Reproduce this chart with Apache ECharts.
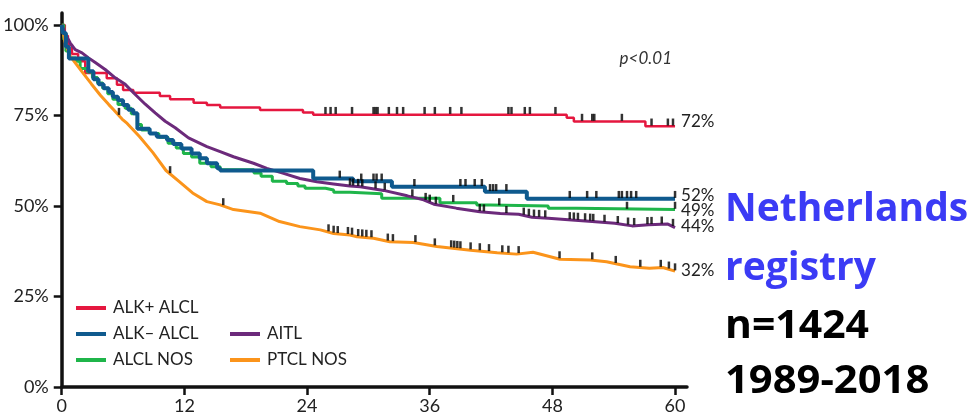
<!DOCTYPE html>
<html>
<head>
<meta charset="utf-8">
<script src="https://cdn.jsdelivr.net/npm/echarts@6/dist/echarts.min.js"></script>
<style>
  html, body { margin: 0; padding: 0; background: #fff; }
  #chart { width: 971px; height: 418px; }
</style>
</head>
<body>
<div id="chart"></div>
<script>
// Overall survival by PTCL subtype: x = months, y = % surviving
const monthTicks = [0, 12, 24, 36, 48, 60];
const percentTicks = [0, 25, 50, 75, 100];

const subtypeNames = ['ALK+ ALCL', 'ALK\u2013 ALCL', 'ALCL NOS', 'AITL', 'PTCL NOS'];

// Kaplan-Meier steps [month, %]
const alkPosCurve = [
  [0, 100], [0.3, 97], [0.6, 94.5], [1.0, 92], [1.6, 90], [2.3, 86.7], [4.4, 85.3],
  [5.4, 83.5], [6.0, 82], [7.0, 81.3], [9.6, 80.4], [10.6, 79.5], [12.9, 78.5],
  [14.2, 77.9], [15.5, 77.2], [19.4, 76.5], [23.6, 75.8], [24.6, 75.2], [49.4, 74.4],
  [50.1, 73.3], [57.1, 72], [60, 72]
];
const alkNegCurve = [
  [0, 100], [0.1, 97.8], [0.4, 94], [0.7, 90.7], [2.6, 87.2], [3.1, 85], [3.6, 83.6],
  [4.1, 82.5], [4.6, 81.5], [5.0, 80.2], [5.5, 79.2], [6.0, 77.9], [6.5, 76.6], [7.0, 75.6],
  [7.4, 71.3], [8.6, 70], [9.3, 69.1], [10.3, 68.2], [10.9, 67.1], [11.7, 65.9],
  [12.7, 64.5], [13.5, 63.2], [14.2, 61.8], [15.2, 60.4], [15.5, 59.8], [24.6, 57.6],
  [28.5, 56.8], [32.3, 55.3], [41.4, 53.9], [45.5, 52], [60, 52]
];
const alclNosCurve = [
  [0, 100], [0.2, 96], [0.4, 92.8], [0.7, 90.9], [1.4, 90], [1.8, 88], [2.5, 87],
  [3.0, 85.5], [3.5, 84], [4.0, 82.5], [4.5, 81], [5.0, 79.5], [5.5, 78], [6.2, 77],
  [6.8, 75.5], [7.4, 72.5], [7.8, 71], [8.6, 70], [9.5, 69], [10.4, 67.3], [11.2, 66],
  [11.9, 64.5], [12.7, 63.5], [13.5, 61.8], [14.6, 60.8], [15.5, 60], [18.8, 59.1],
  [19.5, 58.2], [20.6, 56.8], [22.0, 56.2], [23.1, 55.5], [23.8, 54.9], [25.8, 54.4],
  [26.6, 53.8], [28.2, 53.4], [31.3, 52.1], [37.0, 50.9], [40.6, 50.3], [41.9, 50],
  [47.6, 49.4], [50.4, 49], [60, 49]
];
// Finely stepped curves, drawn as polylines
const aitlCurve = [
  [0, 100], [0.4, 97.3], [0.83, 95], [1.32, 93.2], [1.98, 92.3], [2.62, 90.9],
  [3.28, 89.6], [4.25, 87.7], [5.23, 85.4], [6.21, 83.6], [7.19, 80.8], [8.17, 78.1],
  [9.14, 75.7], [10.12, 73.4], [11.1, 71.6], [12.4, 68.8], [14.2, 66.4], [15.5, 65],
  [16.8, 63.6], [18.76, 61.8], [20.07, 60.4], [21.7, 59], [23.3, 57.6], [24.96, 56.7],
  [26.58, 56.1], [28.2, 55.5], [29.2, 55.3], [31.5, 54.3], [33.8, 52.8], [35.4, 51.7],
  [36.4, 50.5], [38.6, 49.4], [40.9, 48.4], [42.9, 47.9], [44.7, 47.7], [46.0, 46.9],
  [47.6, 46.6], [49.9, 46.1], [51.9, 45.7], [54.1, 45.2], [55.8, 44.5], [57.4, 44.8],
  [59.3, 45.0], [60, 44]
];
const ptclNosCurve = [
  [0, 100], [0.3, 95.5], [0.8, 91.5], [1.9, 87.4], [2.9, 83.7], [3.8, 80.5], [4.6, 78],
  [5.1, 76.5], [5.9, 74], [6.4, 72.8], [7.6, 69.2], [8.9, 64.8], [10.2, 59.8],
  [11.5, 56.7], [12.8, 53.6], [14.2, 51.2], [15.5, 50.3], [16.8, 49], [19.4, 48],
  [21.3, 45.7], [23.3, 44.3], [25.3, 43.4], [26.6, 42.4], [28.2, 42], [28.9, 41.5],
  [30.5, 41.1], [32.1, 40.1], [34.4, 39.9], [36.7, 38.8], [40, 37.8], [42.6, 37.1],
  [44.5, 36.7], [46.1, 37.2], [48.75, 35.3], [51.7, 35.1], [53.3, 34.6], [55.6, 33.2],
  [57.5, 32.8], [58.8, 33], [60, 32]
];

// Censoring times (months)
const alkPosCensored = [25.8, 26.3, 26.8, 28.4, 30.5, 30.7, 30.9, 32.0, 32.8, 33.4, 35.5,
  36.5, 38.0, 39.1, 43.7, 44.0, 45.3, 45.8, 48.3, 50.9, 51.9, 52.1, 54.8, 57.7, 59.3, 59.8];
const alkNegCensored = [27.2, 29.3, 30.5, 30.8, 31.3, 34.5, 39.0, 39.5, 40.4, 41.1, 41.9,
  42.2, 42.5, 43.5, 49.7, 51.4, 52.3, 54.5, 54.8, 55.3, 55.7, 56.2, 60];
const alclNosCensored = [38.3, 42.8, 55.3, 60];
const aitlCensored = [28.2, 28.5, 29.0, 29.4, 30.7, 31.6, 34.3, 35.6, 36.0, 36.6, 40.9,
  41.3, 43.5, 45.2, 45.7, 46.2, 46.7, 47.3, 49.7, 50.1, 50.5, 51.2, 51.7, 52.0, 53.1,
  54.4, 55.4, 56.0, 57.3, 57.7, 58.7, 59.8];
const ptclNosCensored = [5.6, 10.6, 15.8, 26.1, 26.6, 27.0, 28.0, 28.4, 29.0, 29.4, 29.8,
  30.3, 31.9, 32.4, 34.6, 36.5, 38.1, 38.4, 38.7, 39.0, 40.0, 40.9, 41.8, 43.1, 43.7,
  44.7, 48.7, 51.9, 54.2, 56.6, 58.6, 59.4, 60];

const pValueText = 'p<0.01';
const sideNotes = ['Netherlands', 'registry', 'n=1424', '1989-2018'];

// Survival at time m on a curve (step lookup or along the polyline)
function survivalAt(curve, m, stepped) {
  for (let i = curve.length - 1; i >= 0; i--) {
    if (curve[i][0] <= m) {
      if (stepped || i === curve.length - 1) return curve[i][1];
      const a = curve[i], b = curve[i + 1];
      return a[1] + (b[1] - a[1]) * (m - a[0]) / (b[0] - a[0]);
    }
  }
  return curve[0][1];
}

const FONT = 'Lato, "Open Sans", sans-serif';
const TEXT_COLOR = '#222';
const NOTE_FONT = 'bold 39px "Open Sans"';

const groups = [
  { name: subtypeNames[0], curve: alkPosCurve, cens: alkPosCensored, stepped: true,  color: '#e5173f', width: 2.5, labelDy: -5 },
  { name: subtypeNames[2], curve: alclNosCurve, cens: alclNosCensored, stepped: true,  color: '#1fb54a', width: 3,   labelDy: 1 },
  { name: subtypeNames[4], curve: ptclNosCurve, cens: ptclNosCensored, stepped: false, color: '#fb941b', width: 3,   labelDy: -1 },
  { name: subtypeNames[3], curve: aitlCurve,    cens: aitlCensored,    stepped: false, color: '#6c2a7b', width: 3,   labelDy: -1.5 },
  { name: subtypeNames[1], curve: alkNegCurve,  cens: alkNegCensored,  stepped: true,  color: '#0f5a8e', width: 4,   labelDy: -3.5 }
];

const series = [];
groups.forEach((g, i) => {
  series.push({
    name: g.name,
    type: 'line',
    data: g.curve,
    step: g.stepped ? 'end' : false,
    showSymbol: false,
    symbol: 'none',
    z: 2 + i,
    color: g.color,
    itemStyle: { color: g.color },
    lineStyle: { color: g.color, width: g.width },
    endLabel: {
      show: true,
      formatter: p => Math.round(p.value[1]) + '%',
      color: TEXT_COLOR,
      fontSize: 17,
      fontFamily: FONT,
      distance: 6,
      offset: [0, g.labelDy]
    },
    emphasis: { disabled: true }
  });
});
groups.forEach(g => {
  series.push({
    name: g.name + ' censored',
    type: 'scatter',
    data: g.cens.map(m => [m, survivalAt(g.curve, m, g.stepped)]),
    symbol: 'rect',
    symbolSize: [2.5, 7],
    symbolOffset: [0, -4.3],
    itemStyle: { color: '#000' },
    z: 20,
    silent: true
  });
});

const legendCommon = {
  orient: 'vertical',
  icon: 'rect',
  itemWidth: 30,
  itemHeight: 4,
  itemGap: 6,
  padding: 0,
  selectedMode: false,
  itemStyle: { borderWidth: 0 },
  textStyle: { fontSize: 17, lineHeight: 20, color: TEXT_COLOR, fontFamily: FONT, padding: [0, 0, 0, 2] }
};

const chart = echarts.init(document.getElementById('chart'), null, { renderer: 'canvas' });
chart.setOption({
  animation: false,
  backgroundColor: '#fff',
  grid: { left: 61, right: 284, top: 13, bottom: 31, containLabel: false },
  xAxis: {
    type: 'value',
    min: 0,
    max: 61.17,
    splitLine: { show: false },
    axisLine: { show: true, lineStyle: { color: '#111', width: 3.5 } },
    axisTick: { show: true, length: 8, customValues: monthTicks, lineStyle: { color: '#111', width: 2.5 } },
    axisLabel: { customValues: monthTicks, fontSize: 18, color: TEXT_COLOR, fontFamily: FONT, margin: 10 }
  },
  yAxis: {
    type: 'value',
    min: 0,
    max: 103.3,
    splitLine: { show: false },
    axisLine: { show: true, lineStyle: { color: '#111', width: 3.5 } },
    axisTick: { show: true, length: 8, customValues: percentTicks, lineStyle: { color: '#111', width: 2.5 } },
    axisLabel: { customValues: percentTicks, formatter: '{value}%', fontSize: 18, color: TEXT_COLOR, fontFamily: FONT, margin: 13 }
  },
  legend: [
    Object.assign({ data: [subtypeNames[0], subtypeNames[1], subtypeNames[2]], left: 76, top: 298 }, legendCommon),
    Object.assign({ data: [subtypeNames[3], subtypeNames[4]], left: 230, top: 324 }, legendCommon)
  ],
  graphic: [
    { type: 'text', x: 672, y: 59, style: { text: pValueText, font: 'italic 17px ' + FONT, fill: '#333', align: 'right', verticalAlign: 'middle' } },
    { type: 'text', x: 725, y: 209.5, style: { text: sideNotes[0], font: NOTE_FONT, fill: '#3b3bf5', align: 'left', verticalAlign: 'middle' } },
    { type: 'text', x: 725, y: 268.5, style: { text: sideNotes[1], font: NOTE_FONT, fill: '#3b3bf5', align: 'left', verticalAlign: 'middle' } },
    { type: 'text', x: 725, y: 327, scaleX: 1.05, style: { text: sideNotes[2], font: NOTE_FONT, fill: '#000', align: 'left', verticalAlign: 'middle' } },
    { type: 'text', x: 725, y: 382, scaleX: 1.07, style: { text: sideNotes[3], font: NOTE_FONT, fill: '#000', align: 'left', verticalAlign: 'middle' } }
  ],
  series: series
});
</script>
</body>
</html>
